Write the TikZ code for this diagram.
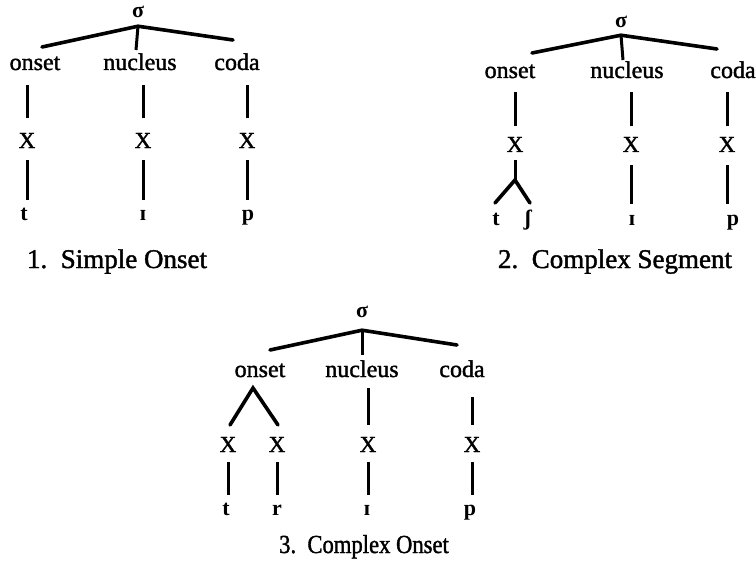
\documentclass[tikz,border=0pt]{standalone}
\usepackage{fontspec}
\usepackage{graphicx}
\setmainfont{Liberation Serif}
\newfontfamily\heavyfont{Liberation Serif}[FakeBold=1.5]
\begin{document}
\begin{tikzpicture}[x=1pt,y=-1pt,
  every node/.style={inner sep=0pt,outer sep=0pt,anchor=base},
  sig/.style={font=\fontsize{22}{22}\selectfont\bfseries},
  lab/.style={font=\fontsize{24}{24}\heavyfont,text height=16pt,text depth=0pt},
  xn/.style={font=\fontsize{23}{23}\heavyfont,text height=15pt,text depth=0pt},
  ph/.style={font=\fontsize{22}{22}\selectfont\bfseries,text height=13pt,text depth=0pt},
  captext/.style={font=\fontsize{27}{27}\heavyfont},
  branch/.style={line width=3.6pt,line cap=round},
  stem/.style={line width=3pt,line cap=butt},
]
\useasboundingbox (0,0) rectangle (756,578);

% ---------------- Diagram 1 ----------------
\node[sig] (s1) at (138,18) {σ};
\node[lab] (on1) at (35,70) {onset};
\node[lab] (nu1) at (140,70) {nucleus};
\node[lab] (co1) at (237,70) {coda};
\node[xn] (x11) at (27,148) {X};
\node[xn] (x12) at (143,148) {X};
\node[xn] (x13) at (247,148) {X};
\node[ph] (p11) at (24,220) {t};
\node[ph] (p12) at (143,220) {ɪ};
\node[ph] (p13) at (248,220) {p};
\coordinate (a1) at ([yshift=-8pt]s1.south);
\draw[branch] ([xshift=7pt,yshift=7pt]on1.north) -- (a1) -- ([xshift=-4pt,yshift=14pt]co1.north);
\draw[stem] (a1) -- ([xshift=-4pt,yshift=4pt]nu1.north);
\draw[stem,shorten <=15pt,shorten >=15pt] (on1.south -| x11.north) -- (x11.north);
\draw[stem,shorten <=15pt,shorten >=15pt] (nu1.south -| x12.north) -- (x12.north);
\draw[stem,shorten <=15pt,shorten >=15pt] (co1.south -| x13.north) -- (x13.north);
\draw[stem,shorten <=12pt,shorten >=7pt] (x11.south) -- (p11.north -| x11.south);
\draw[stem,shorten <=12pt,shorten >=7pt] (x12.south) -- (p12.north -| x12.south);
\draw[stem,shorten <=12pt,shorten >=7pt] (x13.south) -- (p13.north -| x13.south);
\node[captext] (c1) at (117,268) {1.\ \ Simple Onset};

% ---------------- Diagram 2 ----------------
\node[sig] (s2) at (621,28) {σ};
\node[lab] (on2) at (510,78) {onset};
\node[lab] (nu2) at (627,78) {nucleus};
\node[lab] (co2) at (733,78) {coda};
\node[xn] (x21) at (515,152) {X};
\node[xn] (x22) at (631,152) {X};
\node[xn] (x23) at (727,152) {X};
\node[ph] (p21) at (496,225) {t};
\node[ph] (p22) at (528,225) {ʃ};
\node[ph] (p23) at (632,225) {ɪ};
\node[ph] (p24) at (733,225) {p};
\coordinate (a2) at ([yshift=-7pt]s2.south);
\draw[branch] ([xshift=22pt,yshift=9pt]on2.north) -- (a2) -- ([xshift=-16pt,yshift=13pt]co2.north);
\draw[stem] (a2) -- ([xshift=-4pt,yshift=2pt]nu2.north);
\draw[stem,shorten <=14pt,shorten >=11pt] (on2.south -| x21.north) -- (x21.north);
\draw[stem,shorten <=14pt,shorten >=11pt] (nu2.south -| x22.north) -- (x22.north);
\draw[stem,shorten <=14pt,shorten >=11pt] (co2.south -| x23.north) -- (x23.north);
\coordinate (f2) at ([yshift=-28pt]x21.south);
\draw[stem,shorten <=8pt] (x21.south) -- (f2);
\draw[branch] ([xshift=-1pt,yshift=9pt]p21.north) -- (f2) -- ([xshift=2pt,yshift=9pt]p22.north);
\draw[stem,shorten <=13pt,shorten >=8pt] (x22.south) -- (p23.north -| x22.south);
\draw[stem,shorten <=13pt,shorten >=8pt] (x23.south) -- (p24.north -| x23.south);
\node[captext] (c2) at (615,268) {2.\ \ Complex Segment};

% ---------------- Diagram 3 ----------------
\node[sig] (s3) at (362,317) {σ};
\node[lab] (on3) at (260,377) {onset};
\node[lab] (nu3) at (362,377) {nucleus};
\node[lab] (co3) at (462,377) {coda};
\node[xn] (x31) at (228,452) {X};
\node[xn] (x32) at (277,452) {X};
\node[xn] (x33) at (368,452) {X};
\node[xn] (x34) at (472,452) {X};
\node[ph] (p31) at (226,515) {t};
\node[ph] (p32) at (277,515) {r};
\node[ph] (p33) at (367,515) {ɪ};
\node[ph] (p34) at (470,515) {p};
\coordinate (a3) at ([yshift=-13pt]s3.south);
\draw[branch] ([xshift=10pt,yshift=11pt]on3.north) -- (a3) -- ([xshift=-5pt,yshift=16pt]co3.north);
\draw[stem] (a3) -- ([yshift=6pt]nu3.north);
\coordinate (f3) at ([xshift=-7pt,yshift=-11pt]on3.south);
\draw[branch] ([xshift=2pt,yshift=12pt]x31.north) -- (f3) -- ([xshift=1pt,yshift=12pt]x32.north);
\draw[stem,shorten <=11pt,shorten >=12pt] (nu3.south -| x33.north) -- (x33.north);
\draw[stem,shorten <=20pt,shorten >=12pt] (co3.south -| x34.north) -- (x34.north);
\draw[stem,shorten <=10pt,shorten >=7pt] (x31.south) -- (p31.north -| x31.south);
\draw[stem,shorten <=10pt,shorten >=7pt] (x32.south) -- (p32.north -| x32.south);
\draw[stem,shorten <=10pt,shorten >=7pt] (x33.south) -- (p33.north -| x33.south);
\draw[stem,shorten <=10pt,shorten >=7pt] (x34.south) -- (p34.north -| x34.south);
\node[captext] (c3) at (364,553) {\scalebox{0.87}[1]{\fontsize{26}{26}\heavyfont 3.\ \ Complex Onset}};
\end{tikzpicture}
\end{document}
